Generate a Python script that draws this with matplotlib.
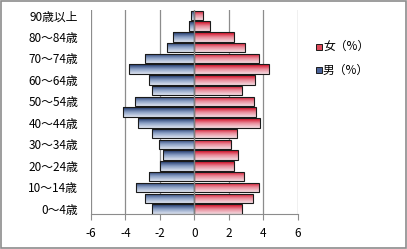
import numpy as np
from matplotlib import pyplot as plt
from matplotlib.colors import LinearSegmentedColormap
from matplotlib.patches import Rectangle

plt.rcParams['font.family'] = ['Noto Sans CJK JP', 'DejaVu Sans']

ages = ['0～4歳', '5～9歳', '10～14歳', '15～19歳', '20～24歳', '25～29歳', '30～34歳',
        '35～39歳', '40～44歳', '45～49歳', '50～54歳', '55～59歳', '60～64歳', '65～69歳',
        '70～74歳', '75～79歳', '80～84歳', '85～89歳', '90歳以上']
male = [2.43, 2.83, 3.37, 2.64, 1.98, 1.79, 2.06, 2.48, 3.29, 4.14,
        3.45, 2.43, 2.64, 3.79, 2.83, 1.60, 1.21, 0.29, 0.17]
female = [2.77, 3.41, 3.72, 2.89, 2.31, 2.54, 2.14, 2.49, 3.78, 3.58,
          3.47, 2.74, 3.53, 4.30, 3.76, 2.95, 2.31, 0.92, 0.52]
xticks = [-6, -4, -2, 0, 2, 4, 6]
legend_labels = ['女（%）', '男（%）']

red_cm = LinearSegmentedColormap.from_list('r', ['#f4dde2', '#e88a99', '#d00018'])
blue_cm = LinearSegmentedColormap.from_list('b', ['#dfe5f0', '#8a9fc4', '#1a3366'])
grad = np.linspace(0, 1, 64).reshape(-1, 1)

fig = plt.figure(figsize=(4.07, 2.49), dpi=100)
fig.patches.append(Rectangle((0.002, 0.004), 0.995, 0.99, transform=fig.transFigure,
                             fill=False, edgecolor='#8c8c8c', linewidth=1.2))
ax = fig.add_axes([0.223, 0.139, 0.509, 0.821])

y = np.arange(len(ages))
h = 0.88

def grad_bars(vals, cmap):
    bars = ax.barh(y, vals, height=h, color='none', edgecolor='#1a1a1a', linewidth=0.8, zorder=3)
    for b in bars:
        x0, y0 = b.get_x(), b.get_y()
        w, hh = b.get_width(), b.get_height()
        im = ax.imshow(grad, cmap=cmap, aspect='auto', origin='lower',
                       extent=[x0, x0 + w, y0, y0 + hh], zorder=2)
        im.set_clip_path(b)
    return bars

grad_bars(female, red_cm)
grad_bars([-v for v in male], blue_cm)

ax.axvline(0, color='#7f7f7f', linewidth=1.0, zorder=4)
for xv in xticks:
    if xv != 0:
        ax.axvline(xv, color='#8c8c8c', linewidth=0.9, zorder=1)

ax.set_xlim(-6, 6)
ax.set_ylim(-0.5, len(ages) - 0.5)
ax.set_xticks(xticks)
ax.set_xticklabels([str(v) for v in xticks], fontsize=8.5)
ax.set_yticks(y[::2])
ax.set_yticklabels(ages[::2], fontsize=8.5)
ax.tick_params(axis='y', length=0, pad=9)
ax.tick_params(axis='x', length=4, color='#8c8c8c', pad=5)
for s in ['top', 'right', 'left']:
    ax.spines[s].set_visible(False)
ax.spines['bottom'].set_color('#8c8c8c')

# legend
sw, shh = 6 / 407, 6 / 249
for lab, col, yc in [(legend_labels[0], '#de4a5a', 0.8125), (legend_labels[1], '#4a6298', 0.719)]:
    fig.patches.append(Rectangle((316 / 407, yc - shh / 2), sw, shh, transform=fig.transFigure,
                                 facecolor=col, edgecolor='#1a1a1a', linewidth=0.7))
    fig.text(323 / 407, yc, lab, fontsize=8.5, va='center', ha='left')

plt.savefig('out.png', dpi=100)
